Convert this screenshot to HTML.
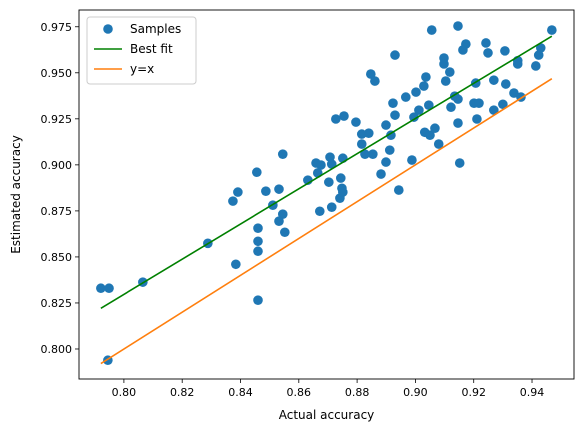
<!DOCTYPE html>
<html><head><meta charset="utf-8"><style>
body{margin:0;background:#fff;}
svg{font-family:"DejaVu Sans","Liberation Sans",sans-serif;}
</style></head><body>
<svg id="chart" width="584" height="432"></svg>
<script>
const actual=[0.7921,0.7949,0.8065,0.8288,0.8460,0.7945,0.8384,0.8460,0.8460,0.8460,0.8374,0.8391,0.8456,0.8545,0.8487,0.8532,0.8511,0.8545,0.8532,0.8552,0.8672,0.8631,0.8659,0.8676,0.8665,0.8703,0.8707,0.8713,0.8741,0.8748,0.8751,0.8744,0.8751,0.8713,0.8727,0.8755,0.8796,0.8899,0.8816,0.8840,0.8816,0.8827,0.8854,0.8912,0.8899,0.8988,0.8882,0.8943,0.8847,0.8861,0.8930,0.8916,0.8923,0.8967,0.8930,0.8995,0.9012,0.9002,0.9029,0.9036,0.9046,0.9032,0.9050,0.9067,0.9080,0.9056,0.9146,0.9098,0.9098,0.9118,0.9104,0.9122,0.9135,0.9146,0.9146,0.9152,0.9173,0.9163,0.9201,0.9218,0.9211,0.9207,0.9242,0.9249,0.9269,0.9269,0.9307,0.9300,0.9310,0.9338,0.9362,0.9351,0.9351,0.9413,0.9423,0.9430,0.9468];
const estimated=[0.8330,0.8330,0.8363,0.8574,0.8265,0.7939,0.8460,0.8531,0.8585,0.8656,0.8803,0.8852,0.8960,0.9058,0.8857,0.8868,0.8781,0.8732,0.8694,0.8634,0.8748,0.8917,0.9010,0.8999,0.8956,0.8906,0.9042,0.8770,0.8819,0.8873,0.8852,0.8928,0.9036,0.9004,0.9249,0.9265,0.9232,0.9216,0.9167,0.9172,0.9113,0.9058,0.9058,0.9080,0.9015,0.9026,0.8950,0.8863,0.9493,0.9455,0.9596,0.9161,0.9335,0.9368,0.9270,0.9259,0.9297,0.9395,0.9428,0.9477,0.9324,0.9177,0.9161,0.9199,0.9113,0.9732,0.9754,0.9580,0.9548,0.9504,0.9455,0.9313,0.9373,0.9357,0.9227,0.9010,0.9656,0.9624,0.9335,0.9335,0.9249,0.9444,0.9662,0.9608,0.9460,0.9297,0.9619,0.9329,0.9439,0.9390,0.9368,0.9566,0.9548,0.9537,0.9596,0.9635,0.9732];
const xTicks=[0.80,0.82,0.84,0.86,0.88,0.90,0.92,0.94];
const yTicks=[0.800,0.825,0.850,0.875,0.900,0.925,0.950,0.975];

const L=79,R=574,T=10,B=379;
const xMin=0.7846,xMax=0.9544,yMin=0.7837,yMax=0.9841;
const sx=v=>L+(v-xMin)/(xMax-xMin)*(R-L);
const sy=v=>B-(v-yMin)/(yMax-yMin)*(B-T);
const svg=document.getElementById('chart');
const NS='http://www.w3.org/2000/svg';
function mk(tag,attrs,parent){const e=document.createElementNS(NS,tag);for(const k in attrs)e.setAttribute(k,attrs[k]);(parent||svg).appendChild(e);return e;}

const gp=mk('g',{});


actual.forEach((a,i)=>{
  const c=mk('circle',{cx:sx(a),cy:sy(estimated[i]),r:4.8,fill:'#1f77b4'},gp);
  
  
});
const n=actual.length;
const mx=actual.reduce((s,v)=>s+v,0)/n,my=estimated.reduce((s,v)=>s+v,0)/n;
let sxy=0,sxx=0;actual.forEach((a,i)=>{sxy+=(a-mx)*(estimated[i]-my);sxx+=(a-mx)*(a-mx);});
const slope=sxy/sxx,icpt=my-slope*mx;
const x0=Math.min(...actual),x1=Math.max(...actual);
const fit=mk('line',{x1:sx(x0),y1:sy(slope*x0+icpt),x2:sx(x1),y2:sy(slope*x1+icpt),stroke:'#008000','stroke-width':1.6});


const idl=mk('line',{x1:sx(x0),y1:sy(x0),x2:sx(x1),y2:sy(x1),stroke:'#ff7f0e','stroke-width':1.6});



const fr=mk('rect',{x:L,y:T,width:R-L,height:B-T,fill:'none',stroke:'#000','stroke-width':0.9});


xTicks.forEach(t=>{
  const x=sx(t);
  mk('line',{x1:x,y1:B,x2:x,y2:B+4,stroke:'#000','stroke-width':0.8});
  const tx=mk('text',{x:x,y:B+17,'text-anchor':'middle','font-size':11,fill:'#000'});
  tx.textContent=t.toFixed(2);
  
  
});
yTicks.forEach(t=>{
  const y=sy(t);
  mk('line',{x1:L-4,y1:y,x2:L,y2:y,stroke:'#000','stroke-width':0.8});
  const tx=mk('text',{x:L-7,y:y+4,'text-anchor':'end','font-size':11,fill:'#000'});
  tx.textContent=t.toFixed(3);
  
  
});
const xt=mk('text',{x:(L+R)/2,y:419,'text-anchor':'middle','font-size':12});
xt.textContent='Actual accuracy';


const yt=mk('text',{x:0,y:0,'text-anchor':'middle','font-size':12,transform:`translate(20,${(T+B)/2}) rotate(-90)`});
yt.textContent='Estimated accuracy';



const lg=mk('g',{});


mk('rect',{x:87,y:17,width:109,height:67,rx:3,fill:'#fff','fill-opacity':0.8,stroke:'#ccc'},lg);
const items=[['Samples','pt','#1f77b4'],['Best fit','ln','#008000'],['y=x','ln','#ff7f0e']];
items.forEach((it,i)=>{
  const y=29+i*20;
  const g=mk('g',{},lg);
  
  
  if(it[1]==='pt')mk('circle',{cx:108,cy:y,r:4.8,fill:it[2]},g);
  else mk('line',{x1:94,y1:y,x2:122,y2:y,stroke:it[2],'stroke-width':1.6},g);
  const t=mk('text',{x:130,y:y+4,'font-size':12},g);
  t.textContent=it[0];
});
</script>
</body></html>
